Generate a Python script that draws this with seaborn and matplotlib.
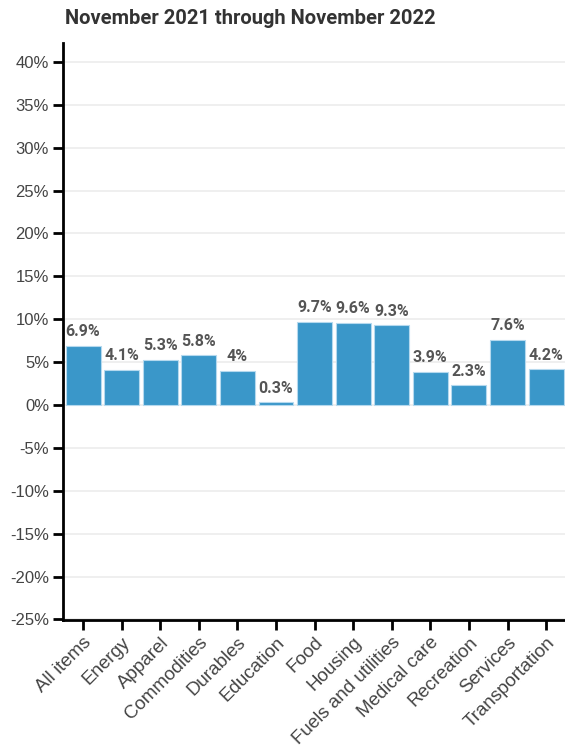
import matplotlib
matplotlib.use("Agg")
import matplotlib.pyplot as plt
import seaborn as sns
import pandas as pd
import numpy as np

categories = ["All items", "Energy", "Apparel", "Commodities", "Durables", "Education",
              "Food", "Housing", "Fuels and utilities", "Medical care", "Recreation",
              "Services", "Transportation"]
values = [6.9, 4.1, 5.3, 5.8, 4.0, 0.3, 9.7, 9.6, 9.3, 3.9, 2.3, 7.6, 4.2]
value_labels = ["6.9%", "4.1%", "5.3%", "5.8%", "4%", "0.3%", "9.7%", "9.6%", "9.3%",
                "3.9%", "2.3%", "7.6%", "4.2%"]
yticks = list(range(-25, 45, 5))
title = "November 2021 through November 2022"

sns.set_style("white")
plt.rcParams["font.family"] = ["Liberation Sans", "DejaVu Sans"]

df = pd.DataFrame({"category": categories, "value": values})

fig = plt.figure(figsize=(5.65, 7.51), dpi=100)
ax = fig.add_axes([63 / 565, 1 - 620 / 751, 502 / 565, (620 - 43) / 751])

sns.barplot(data=df, x="category", y="value", color="#3a97c9", saturation=1,
            width=0.905, edgecolor="#b5d9ee", linewidth=0.8, ax=ax, zorder=3)

ax.set_xlim(-0.52, 12.49)
ax.set_ylim(-25.07, 42.2)
ax.set_yticks(yticks)
ax.set_yticklabels([f"{t}%" for t in yticks], fontsize=12, color="#444444")
ax.yaxis.grid(True, color="#ececec", linewidth=1.2, zorder=0)
ax.set_axisbelow(True)

ax.set_xticks(range(len(categories)))
ax.set_xticklabels(categories, rotation=45, ha="right", rotation_mode="anchor",
                   fontsize=13.5, color="#444444")
ax.set_xlabel("")
ax.set_ylabel("")

for s in ["top", "right"]:
    ax.spines[s].set_visible(False)
for s in ["left", "bottom"]:
    ax.spines[s].set_color("black")
    ax.spines[s].set_linewidth(2)
ax.tick_params(axis="both", which="both", length=7, width=2, color="black",
               direction="out", pad=3, left=True, bottom=True)

for i, (v, lab) in enumerate(zip(values, value_labels)):
    ax.text(i, v + 0.75, lab, ha="center", va="bottom", fontsize=11.5,
            fontweight="bold", color="#555555", family=["Roboto", "DejaVu Sans"],
            zorder=4)

fig.text(65 / 565, 1 - 18 / 751, title, ha="left", va="center", fontsize=14.5,
         fontweight="bold", color="#333333", family=["Roboto", "DejaVu Sans"])

fig.savefig("out.png", dpi=100)
